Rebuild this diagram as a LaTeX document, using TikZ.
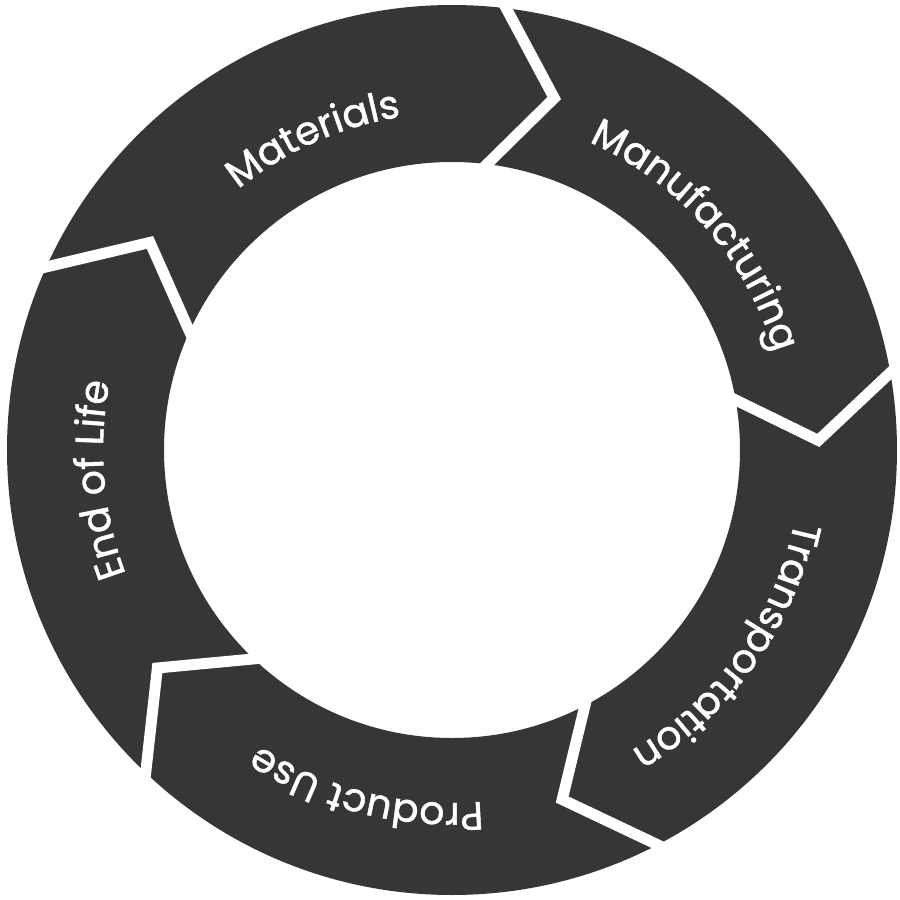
\documentclass[tikz,border=0pt]{standalone}
\usepackage{fontspec}
\newfontfamily\ringfont[FakeBold=1.2]{Poppins}
\usetikzlibrary{calc,decorations.text}
\definecolor{ringdark}{HTML}{363636}
\newcommand\lblfont{\ringfont\fontsize{11.2}{13}\selectfont}

\begin{document}
\begin{tikzpicture}[
    gap/.style={draw=white, line width=1.1mm, line join=miter},
    lbl/.style={decorate, decoration={text along path, text align=center, text color=white}},
  ]
  \useasboundingbox (-4.52,-4.50) rectangle (4.48,4.50);

  % ---- ring
  \fill[ringdark, even odd rule] (0,0) circle[radius=4.45] (0,0) circle[radius=2.88];

  % ---- chevron gaps: outer end angle / tip angle
  \foreach \a/\b [count=\i] in {83/73.8, 10/1.5, -62.5/-72.5, -133.5/-143.5, 155.7/145.5} {
    \coordinate (o\i) at (\a:4.45);
    \coordinate (t\i) at (\b:3.665);
    \coordinate (n\i) at (\a:2.88);
    \draw[gap] ($(t\i)!1.2!(o\i)$) -- (t\i) -- ($(t\i)!1.2!(n\i)$);
  }

  % ---- stage labels, clockwise along the ring
  \path[lbl, decoration={text={|\lblfont|Materials}}]
    (149:3.37) arc[start angle=149, end angle=79, radius=3.37];
  \path[lbl, decoration={text={|\lblfont|Manufacturing}}]
    (76.4:3.37) arc[start angle=76.4, end angle=6.4, radius=3.37];
  \path[lbl, decoration={text={|\lblfont|Transportation}}]
    (-0.5:3.50) arc[start angle=-0.5, end angle=-70.5, radius=3.50];
  \path[lbl, decoration={text={|\lblfont|Product Use}}]
    (-69.1:3.53) arc[start angle=-69.1, end angle=-139.1, radius=3.53];
  \path[lbl, decoration={text={|\lblfont|End of Life}}]
    (219.8:3.49) arc[start angle=219.8, end angle=149.8, radius=3.49];
\end{tikzpicture}
\end{document}
